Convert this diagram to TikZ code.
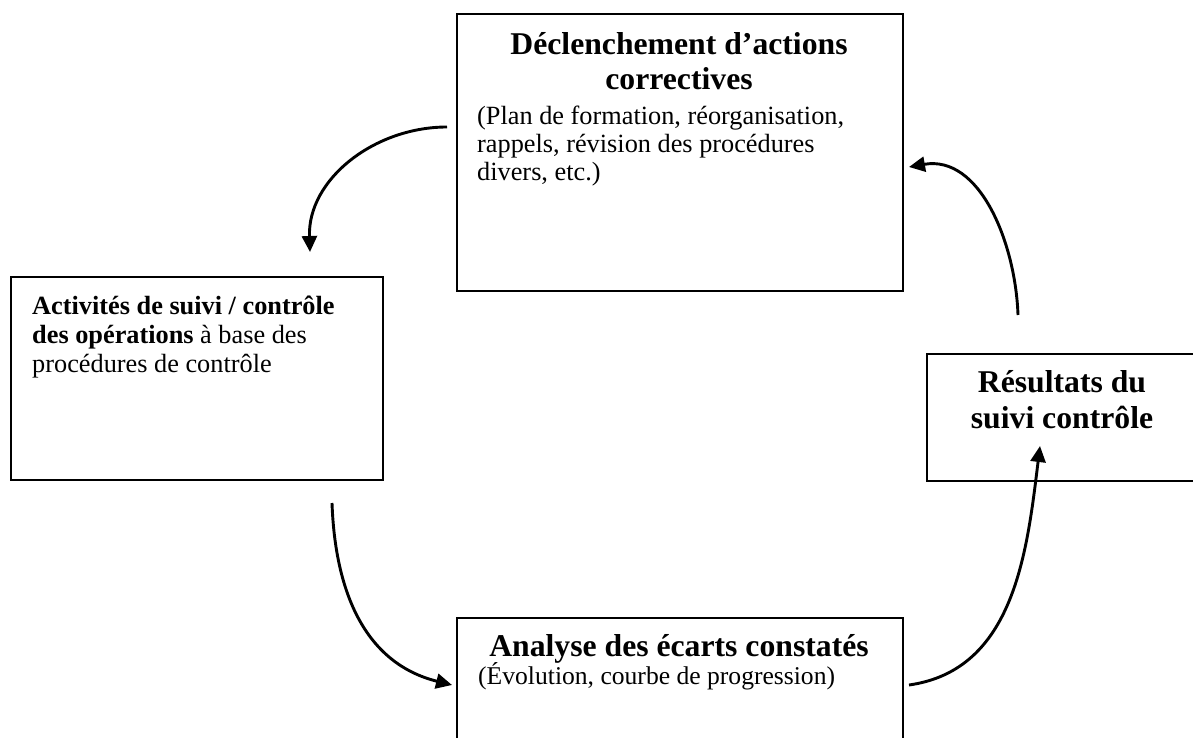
\documentclass[tikz,border=0pt]{standalone}
\usepackage{fontspec}
\setmainfont{Liberation Serif}
\usetikzlibrary{arrows.meta}
\begin{document}
\begin{tikzpicture}[x=1pt,y=-1pt,
  box/.style={draw=black, line width=1.7pt, rectangle, inner sep=0pt, anchor=north west},
  flow/.style={line width=2.9pt, -{Triangle[length=16pt,width=15pt]}},
  ttl/.style={font=\fontsize{31.7}{36}\selectfont\bfseries, inner sep=0pt, anchor=base},
  body/.style={font=\fontsize{26.3}{29}\selectfont, inner sep=0pt, anchor=base west},
]
\useasboundingbox (0,0) rectangle (1193,738);
\clip (0,0) rectangle (1193,738);

% boxes
\node[box, minimum width=446pt, minimum height=277pt] (topbox) at (456,13) {};
\node[box, minimum width=372pt, minimum height=203pt] (leftbox) at (10,276) {};
\node[box, minimum width=330pt, minimum height=127pt] (rightbox) at (926,353) {};
\node[box, minimum width=446pt, minimum height=190pt] (botbox) at (456,617) {};

% top box text
\node[ttl] (t1) at (679,55) {Déclenchement d’actions};
\node[ttl] (t2) at (679,90) {correctives};
\node[body] (t3) at (477,125) {(Plan de formation, réorganisation,};
\node[body] (t4) at (477,153) {rappels, révision des procédures};
\node[body] (t5) at (477,181) {divers, etc.)};

% left box text
\node[body] (l1) at (32,314) {\textbf{Activités de suivi / contrôle}};
\node[body] (l2) at (32,343) {\textbf{des opérations} à base des};
\node[body] (l3) at (32,372) {procédures de contrôle};

% right box text
\node[ttl] (r1) at (1062,392) {Résultats du};
\node[ttl] (r2) at (1062,428) {suivi contrôle};

% bottom box text
\node[ttl] (b1) at (679,656) {Analyse des écarts constatés};
\node[body, font=\fontsize{25.6}{29}\selectfont] (b2) at (478,684) {(Évolution, courbe de progression)};

% arrow end points
\coordinate (a1s) at (447,127);
\coordinate (a1e) at (310,252);
\coordinate (a2s) at (332,503);
\coordinate (a2e) at (452,685);
\coordinate (a3s) at (909,685);
\coordinate (a3e) at (1040,446);
\coordinate (a4s) at (1018,315);
\coordinate (a4e) at (909,167);

\draw[flow] (a1s) to[out=180, in=92] (a1e);
\draw[flow] (a2s) to[out=-88, in=166, looseness=1.05] (a2e);
\draw[flow] (a3s) to[out=8, in=-97] (a3e);
\draw[flow] (a4s) to[out=92, in=10] (a4e);
\end{tikzpicture}
\end{document}
